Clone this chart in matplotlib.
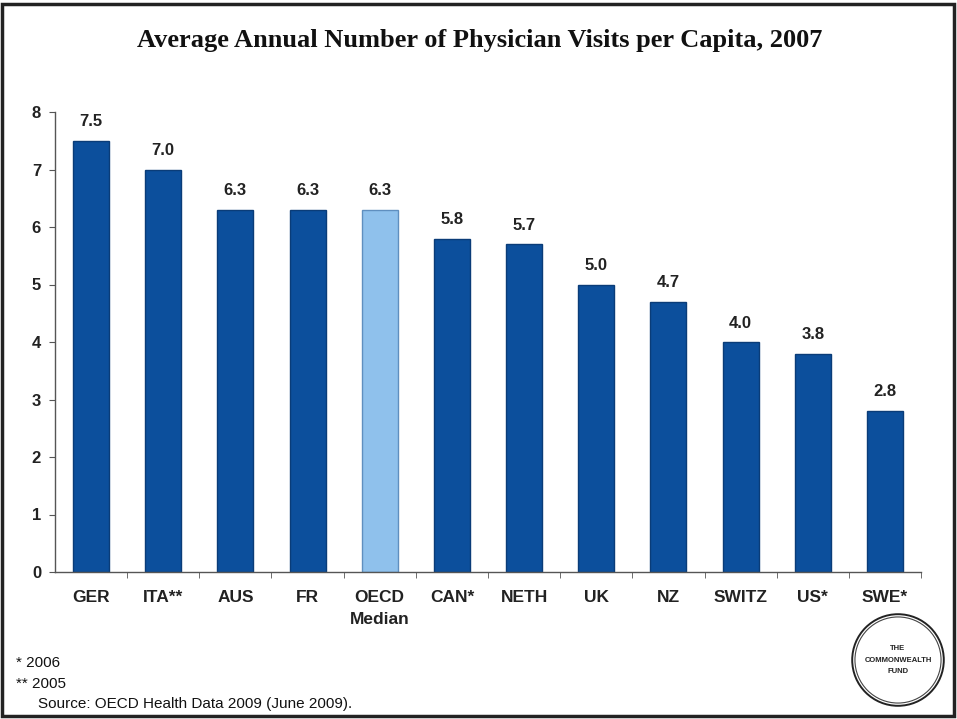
import matplotlib
matplotlib.use("Agg")
import matplotlib.pyplot as plt
from matplotlib.patches import Rectangle, Circle

categories = ["GER", "ITA**", "AUS", "FR", "OECD\nMedian", "CAN*", "NETH", "UK", "NZ", "SWITZ", "US*", "SWE*"]
visits = [7.5, 7.0, 6.3, 6.3, 6.3, 5.8, 5.7, 5.0, 4.7, 4.0, 3.8, 2.8]
highlight = "OECD\nMedian"
y_ticks = [0, 1, 2, 3, 4, 5, 6, 7, 8]

dark_blue = "#0c4f9c"
light_blue = "#8fc1ec"

W, H = 957, 719
fig = plt.figure(figsize=(W / 100, H / 100), dpi=100)
fig.patch.set_facecolor("white")

# axes in pixel coordinates
x0, x1 = 55, 921
y_top, y_bot = 112, 572
ax = fig.add_axes([x0 / W, 1 - y_bot / H, (x1 - x0) / W, (y_bot - y_top) / H])

xs = list(range(len(categories)))
colors = [light_blue if c == highlight else dark_blue for c in categories]
edges = ["#5f8fbf" if c == highlight else "#0a3c78" for c in categories]
ax.bar(xs, visits, width=0.5, color=colors, edgecolor=edges, linewidth=1.0)

for x, v in zip(xs, visits):
    ax.text(x, v + 0.2, f"{v:.1f}", ha="center", va="bottom",
            fontsize=12, fontweight="bold", family="Liberation Sans", color="#222222")

ax.set_xlim(-0.5, len(categories) - 0.5)
ax.set_ylim(0, 8)
ax.set_yticks(y_ticks)
ax.set_yticklabels([str(t) for t in y_ticks], fontsize=12, fontweight="bold",
                   family="Liberation Sans", color="#222222")
ax.set_xticks([x + 0.5 for x in xs[:-1]] + [len(categories) - 0.5], minor=True)
ax.set_xticks(xs)
ax.set_xticklabels(categories, fontsize=12.5, fontweight="bold", family="Liberation Sans",
                   color="#222222", linespacing=1.6)
ax.tick_params(axis="x", which="major", length=0, pad=13)
ax.tick_params(axis="x", which="minor", length=4, direction="out", color="#555555")
ax.tick_params(axis="y", length=4, direction="out", color="#555555", pad=6)
for s in ["top", "right"]:
    ax.spines[s].set_visible(False)
for s in ["left", "bottom"]:
    ax.spines[s].set_color("#555555")
    ax.spines[s].set_linewidth(1.0)

# title
fig.text(480 / W, 1 - 40 / H, "Average Annual Number of Physician Visits per Capita, 2007",
         ha="center", va="center", fontsize=19, fontweight="bold",
         family="Liberation Serif", color="#111111")

# footnotes
foot_kw = dict(fontsize=11, family="Liberation Sans", color="#111111", va="center", ha="left")
fig.text(16 / W, 1 - 663 / H, "* 2006", **foot_kw)
fig.text(16 / W, 1 - 684 / H, "** 2005", **foot_kw)
fig.text(38 / W, 1 - 704 / H, "Source: OECD Health Data 2009 (June 2009).", **foot_kw)

# outer frame
fig.add_artist(Rectangle((2 / W, 1 - 716 / H), (954 - 2) / W, (716 - 4) / H,
                         transform=fig.transFigure, fill=False, edgecolor="#222222", linewidth=2.5))

# logo seal
cx, cy, r = 898, 660, 46
logo_ax = fig.add_axes([(cx - r - 3) / W, 1 - (cy + r + 3) / H, (2 * r + 6) / W, (2 * r + 6) / H])
logo_ax.set_xlim(-1.07, 1.07)
logo_ax.set_ylim(-1.07, 1.07)
logo_ax.set_aspect("equal")
logo_ax.axis("off")
logo_ax.add_patch(Circle((0, 0), 1.0, fill=False, edgecolor="#222222", linewidth=1.4))
logo_ax.add_patch(Circle((0, 0), 0.94, fill=False, edgecolor="#444444", linewidth=0.8))
logo_kw = dict(ha="center", va="center", fontweight="bold", family="Liberation Sans", color="#222222")
logo_ax.text(0, 0.25, "THE", fontsize=5.5, **logo_kw)
logo_ax.text(0, 0.0, "COMMONWEALTH", fontsize=5.5, **logo_kw)
logo_ax.text(0, -0.25, "FUND", fontsize=5.5, **logo_kw)

fig.savefig("out.png", dpi=100, facecolor="white")
